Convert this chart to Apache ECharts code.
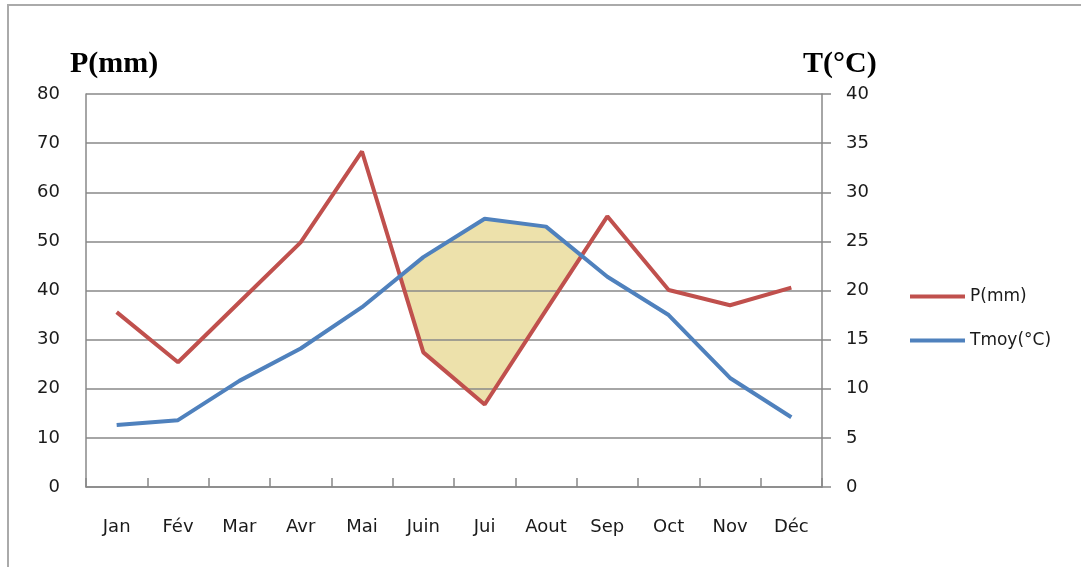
<!DOCTYPE html>
<html>
<head>
<meta charset="utf-8">
<script src="https://cdn.jsdelivr.net/npm/echarts@6/dist/echarts.min.js"></script>
<style>html,body{margin:0;padding:0;background:#fff}#c{width:1081px;height:567px}</style>
</head>
<body>
<div id="c"></div>
<script>
var months = ['Jan','Fév','Mar','Avr','Mai','Juin','Jui','Aout','Sep','Oct','Nov','Déc'];
var precip = [35.6, 25.4, 37.6, 49.8, 68.3, 27.4, 16.8, 36.0, 55.1, 40.1, 37.0, 40.6];
var temp = [6.3, 6.8, 10.8, 14.1, 18.3, 23.4, 27.3, 26.5, 21.4, 17.5, 11.1, 7.1];
var pTicks = [0, 10, 20, 30, 40, 50, 60, 70, 80];
var tTicks = [0, 5, 10, 15, 20, 25, 30, 35, 40];

// polygon of dry period (2T > P), in P units
function dryPolygons() {
  var polys = [];
  var top = [], bottom = [];
  var inDry = false;
  for (var i = 0; i < months.length; i++) {
    var d = 2 * temp[i] - precip[i];
    if (i > 0) {
      var dp = 2 * temp[i - 1] - precip[i - 1];
      if ((dp > 0) !== (d > 0)) {
        var t = dp / (dp - d);
        var x = i - 1 + t;
        var y = precip[i - 1] + t * (precip[i] - precip[i - 1]);
        top.push([x, y]); bottom.push([x, y]);
        if (inDry) {
          polys.push(top.concat(bottom.reverse()));
          top = []; bottom = [];
        }
        inDry = d > 0;
      }
    }
    if (d > 0) {
      top.push([i, 2 * temp[i]]);
      bottom.push([i, precip[i]]);
    }
  }
  return polys;
}
var polys = dryPolygons();

var chart = echarts.init(document.getElementById('c'));
var labelFont = 'DejaVu Sans';
var labelColor = '#1a1a1a';
chart.setOption({
  animation: false,
  grid: { left: 86, right: 259, top: 94, bottom: 80 },
  graphic: [
    { type: 'rect', shape: { x: 8, y: 5, width: 1200, height: 700 }, style: { fill: 'none', stroke: '#aaaaaa', lineWidth: 2 }, silent: true },
    { type: 'text', left: 70, top: 49, style: { text: 'P(mm)', font: 'bold 30px "Liberation Serif"', fill: '#000' } },
    { type: 'text', left: 803, top: 49, style: { text: 'T(°C)', font: 'bold 30px "Liberation Serif"', fill: '#000' } }
  ],
  legend: {
    orient: 'vertical', left: 905, top: 283, itemGap: 27, itemWidth: 55, itemHeight: 4,
    icon: 'rect',
    textStyle: { fontFamily: labelFont, fontSize: 17, color: labelColor },
    data: ['P(mm)', 'Tmoy(°C)']
  },
  xAxis: [
    {
      type: 'category', data: months, boundaryGap: true,
      axisLine: { show: true, lineStyle: { color: '#888', width: 1.5 } },
      axisTick: { show: true, inside: true, alignWithLabel: false, interval: 0, length: 9, lineStyle: { color: '#888', width: 1.5 } },
      axisLabel: { margin: 31, fontFamily: labelFont, fontSize: 18, color: labelColor, interval: 0 },
      splitLine: { show: false }
    },
    { type: 'value', min: -0.5, max: 11.5, show: false }
  ],
  yAxis: [
    {
      type: 'value', min: pTicks[0], max: pTicks[pTicks.length - 1], interval: 10,
      axisLine: { show: true, onZero: false, lineStyle: { color: '#888', width: 1.5 } },
      axisTick: { show: false },
      axisLabel: { margin: 26, fontFamily: labelFont, fontSize: 18, color: labelColor },
      splitLine: { lineStyle: { color: '#888', width: 1.5 } }
    },
    {
      type: 'value', min: tTicks[0], max: tTicks[tTicks.length - 1], interval: 5,
      axisLine: { show: true, onZero: false, lineStyle: { color: '#888', width: 1.5 } },
      axisTick: { show: true, length: 9, lineStyle: { color: '#888', width: 1.5 } },
      axisLabel: { margin: 24, fontFamily: labelFont, fontSize: 18, color: labelColor },
      splitLine: { show: false }
    }
  ],
  series: [
    {
      type: 'custom', xAxisIndex: 1, yAxisIndex: 0, z: -1, silent: true,
      data: polys.map(function (p, i) { return [i]; }),
      renderItem: function (params, api) {
        var poly = polys[params.dataIndex];
        var pts = poly.map(function (p) { return api.coord(p); });
        return { type: 'polygon', shape: { points: pts }, style: { fill: '#EDE1AB', stroke: 'none' } };
      }
    },
    {
      name: 'P(mm)', type: 'line', data: precip, yAxisIndex: 0,
      symbol: 'none', lineStyle: { color: '#C0504D', width: 4 }, itemStyle: { color: '#C0504D' }
    },
    {
      name: 'Tmoy(°C)', type: 'line', data: temp, yAxisIndex: 1,
      symbol: 'none', lineStyle: { color: '#4F81BD', width: 4 }, itemStyle: { color: '#4F81BD' }
    }
  ]
});
</script>
</body>
</html>
